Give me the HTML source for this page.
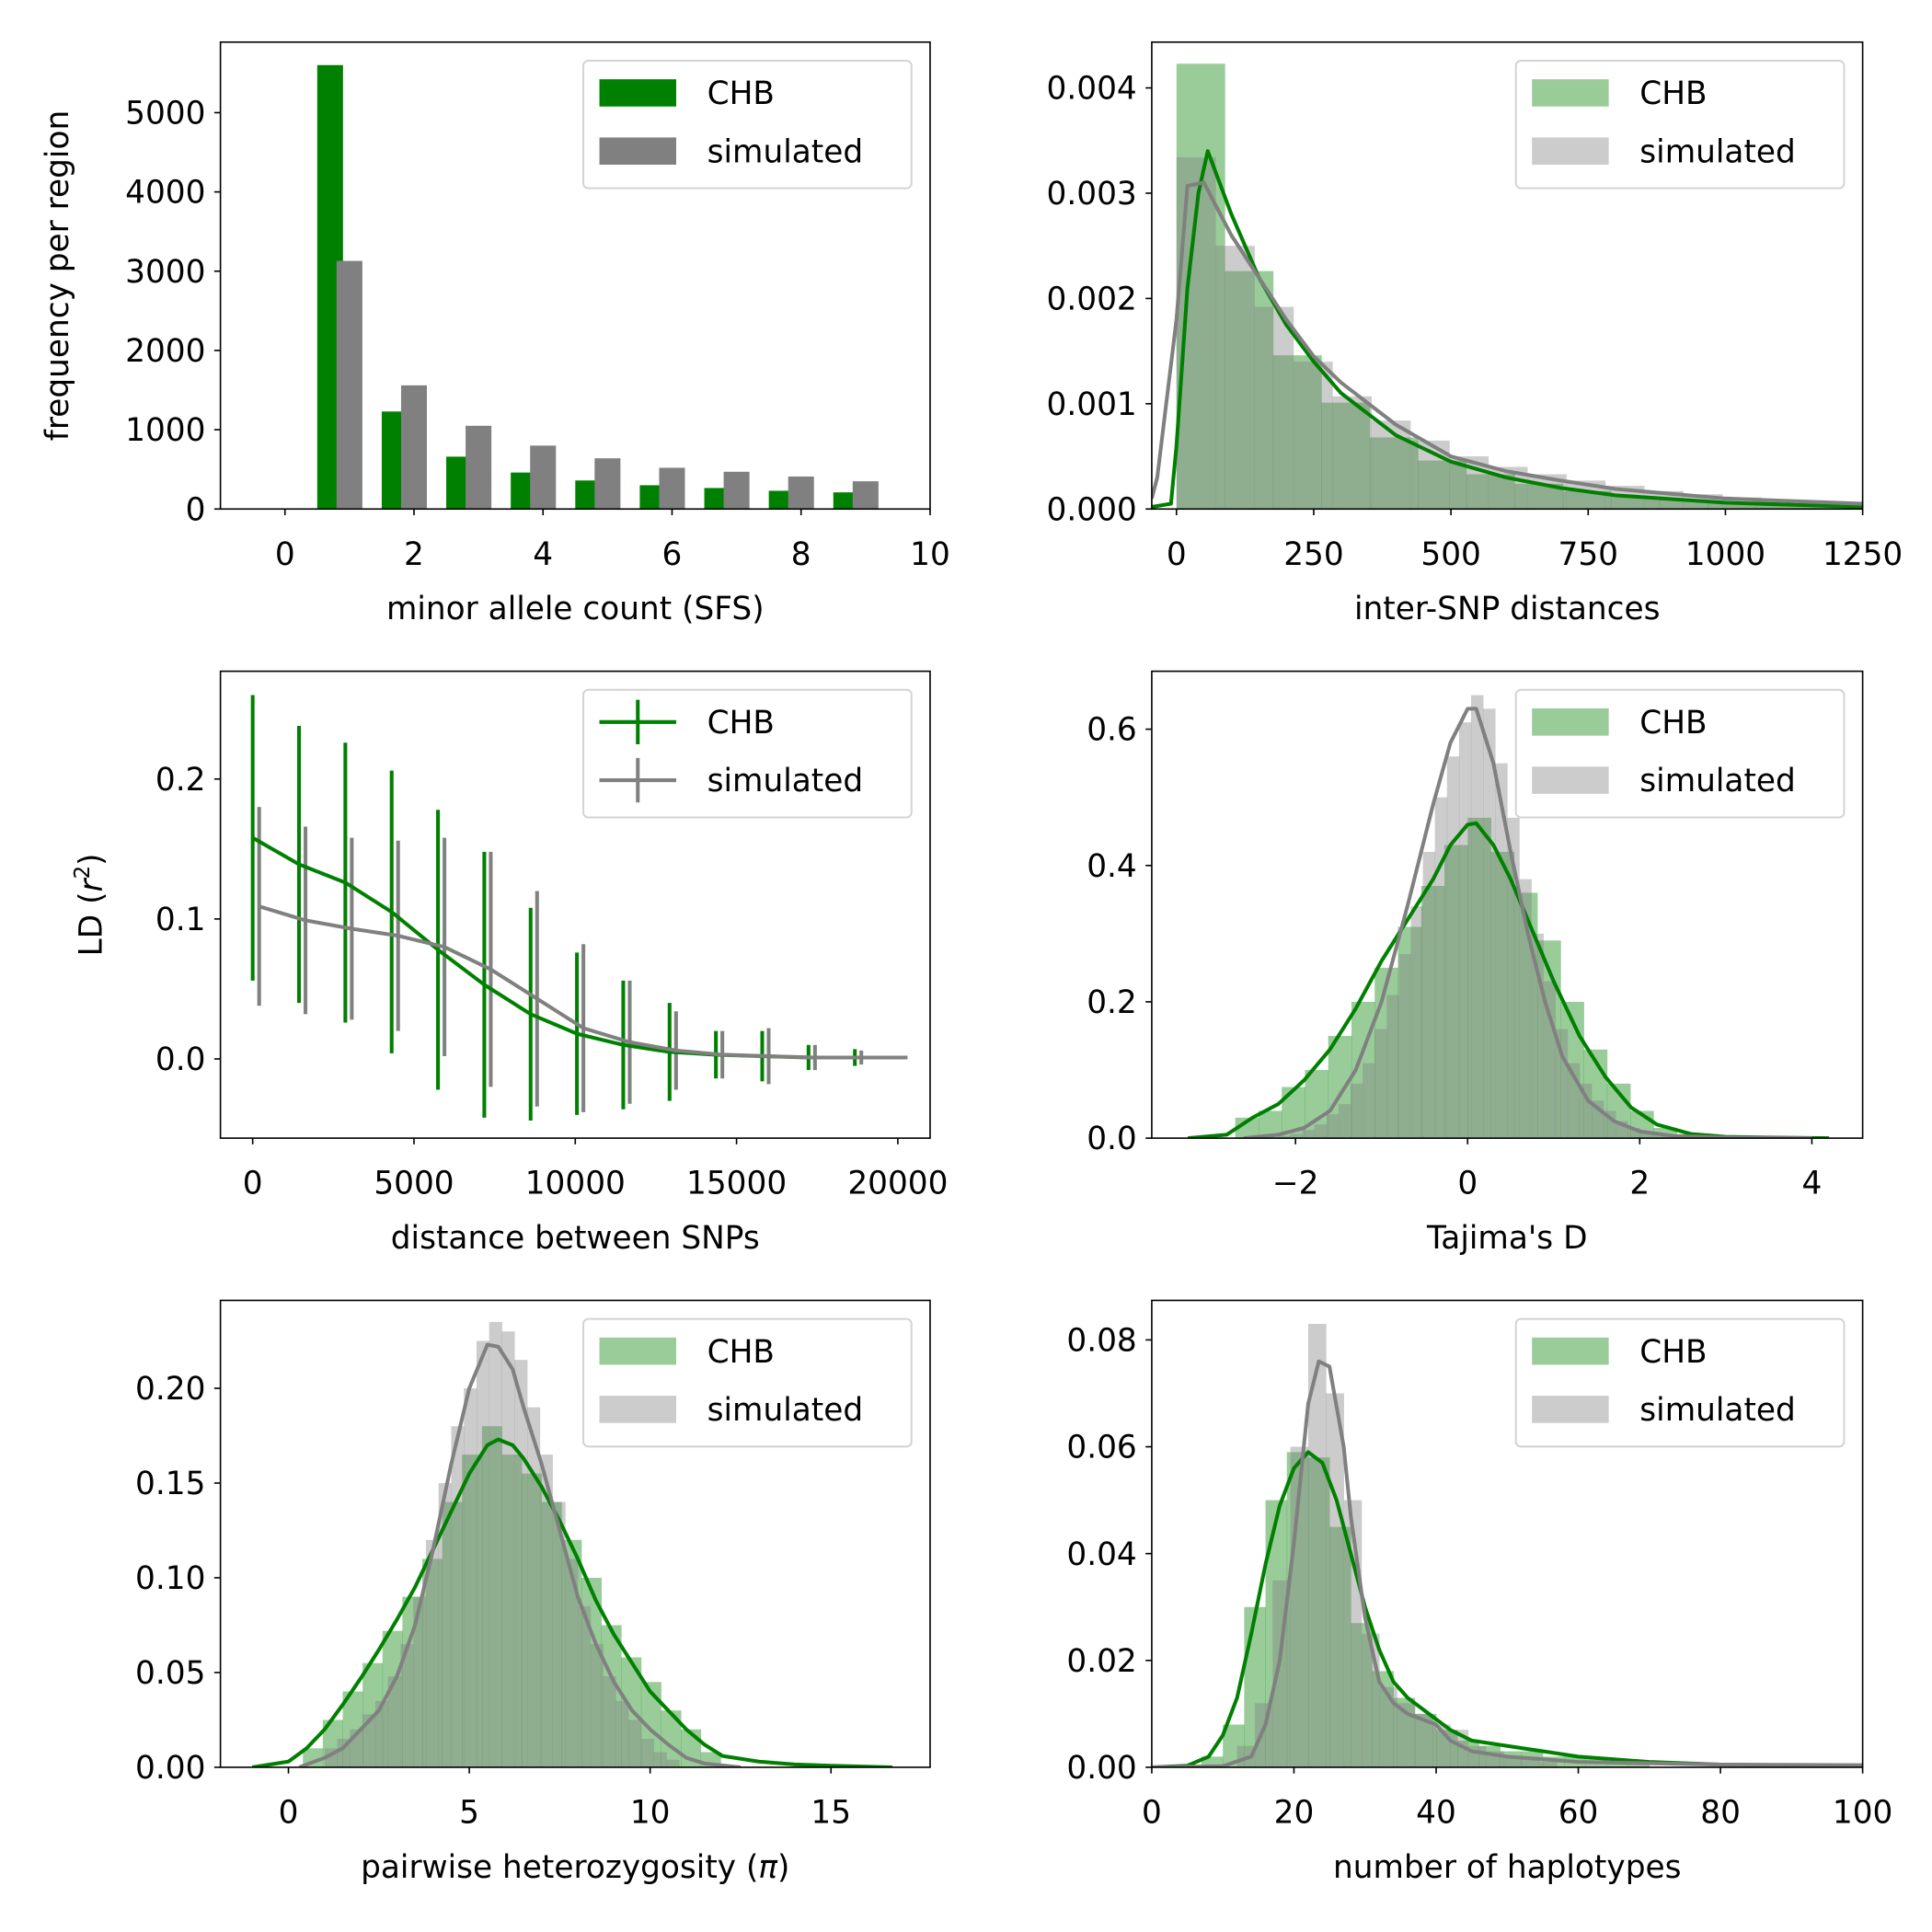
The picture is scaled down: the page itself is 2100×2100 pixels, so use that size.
<!DOCTYPE html>
<html><head><meta charset="utf-8"><style>
html,body{margin:0;padding:0;background:#fff;}
svg{display:block;}
text{font-family:"DejaVu Sans","Liberation Sans",sans-serif;fill:#000;}
</style></head><body>
<svg id="fig" width="2100" height="2100" viewBox="0 0 1560 1560" xmlns="http://www.w3.org/2000/svg"></svg>
<script>
// ---------- Panel 1: SFS ----------
const sfsCounts = [1,2,3,4,5,6,7,8,9];
const sfsCHB = [5600,1230,660,460,360,300,265,230,210];
const sfsSim = [3130,1560,1050,800,640,520,470,410,350];
const sfsXTicks = [0,2,4,6,8,10];
const sfsYTicks = [0,1000,2000,3000,4000,5000];
// ---------- Panel 2: inter-SNP distances ----------
const distChbStart = 0, distChbWidth = 88;
const distChbHist = [0.00423,0.00226,0.00146,0.00101,0.00068,0.00046,0.00033,0.00024,0.00017,0.00012,0.00009,0.00006,0.00004,0.00003];
const distSimStart = 0, distSimWidth = 71;
const distSimHist = [0.00334,0.00250,0.00192,0.00140,0.00107,0.00084,0.00065,0.00050,0.00040,0.00033,0.00027,0.00022,0.00017,0.00014,0.00011,0.00009,0.00007];
const distChbKdeX = [-45,-10,0,20,40,57,100,150,200,250,300,400,500,600,700,800,1000,1250];
const distChbKdeY = [0.00002,0.00005,0.0006,0.0021,0.0030,0.0034,0.0028,0.0022,0.00175,0.0014,0.0011,0.0007,0.00045,0.0003,0.0002,0.00013,0.00006,0.00002];
const distSimKdeX = [-45,-35,0,20,50,100,150,200,250,300,400,500,600,700,800,1000,1250];
const distSimKdeY = [0.0001,0.0003,0.0018,0.00307,0.0031,0.0026,0.0022,0.0018,0.00145,0.0012,0.0008,0.0005,0.00036,0.00027,0.00019,0.0001,0.00005];
const distXTicks = [0,250,500,750,1000,1250];
const distYTicks = [0,0.001,0.002,0.003,0.004];
// ---------- Panel 3: LD decay ----------
const ldX = [0,1436,2872,4308,5744,7180,8616,10052,11488,12924,14360,15796,17232,18668,20100];
const ldChbMean = [0.158,0.139,0.126,0.105,0.078,0.053,0.032,0.018,0.010,0.005,0.003,0.002,0.001,0.001,0.001];
const ldChbErr = [0.102,0.099,0.100,0.101,0.100,0.095,0.076,0.058,0.046,0.035,0.017,0.018,0.009,0.006,0];
const ldSimMean = [0.109,0.099,0.093,0.088,0.080,0.064,0.043,0.022,0.012,0.006,0.003,0.002,0.001,0.001,0.001];
const ldSimErr = [0.071,0.067,0.065,0.068,0.078,0.084,0.077,0.060,0.044,0.028,0.017,0.020,0.009,0.005,0];
const ldSimOffset = 200;
const ldXTicks = [0,5000,10000,15000,20000];
const ldYTicks = [0,0.1,0.2];
// ---------- Panel 4: Tajima's D ----------
const tajChbStart = -2.7, tajChbWidth = 0.27;
const tajChbHist = [0.03,0.04,0.075,0.1,0.15,0.2,0.25,0.31,0.37,0.43,0.47,0.42,0.36,0.29,0.2,0.13,0.08,0.04,0.015,0.006,0.003,0.002];
const tajSimStart = -2.2, tajSimWidth = 0.14;
const tajSimHist = [0.003,0.006,0.012,0.02,0.035,0.05,0.08,0.11,0.16,0.21,0.27,0.34,0.42,0.5,0.56,0.61,0.65,0.63,0.55,0.47,0.38,0.3,0.23,0.16,0.11,0.08,0.055,0.04,0.025,0.015,0.008,0.004,0.002];
const tajChbKdeX = [-3.25,-2.8,-2.5,-2.2,-1.9,-1.6,-1.3,-1.0,-0.7,-0.4,-0.2,0,0.1,0.3,0.5,0.8,1.0,1.3,1.6,1.9,2.2,2.6,3.0,3.5,4.2];
const tajChbKdeY = [0,0.005,0.03,0.05,0.085,0.13,0.19,0.26,0.32,0.38,0.43,0.46,0.462,0.43,0.38,0.29,0.23,0.15,0.09,0.045,0.02,0.006,0.002,0.001,0];
const tajSimKdeX = [-2.6,-2.2,-1.9,-1.6,-1.3,-1.0,-0.7,-0.4,-0.2,0,0.1,0.3,0.5,0.7,0.9,1.1,1.4,1.7,2.0,2.4,3.0,4.0];
const tajSimKdeY = [0,0.005,0.015,0.04,0.1,0.2,0.34,0.49,0.58,0.63,0.63,0.55,0.42,0.3,0.2,0.12,0.055,0.025,0.01,0.003,0.001,0];
const tajXTicks = [-2,0,2,4];
const tajYTicks = [0,0.2,0.4,0.6];
// ---------- Panel 5: pi ----------
const piChbStart = 0.4, piChbWidth = 0.55;
const piChbHist = [0.01,0.025,0.04,0.055,0.072,0.09,0.11,0.14,0.165,0.18,0.165,0.155,0.14,0.12,0.1,0.075,0.058,0.045,0.03,0.02,0.008];
const piSimStart = 1.0, piSimWidth = 0.35;
const piSimHist = [0.01,0.015,0.02,0.028,0.035,0.048,0.065,0.09,0.12,0.15,0.18,0.2,0.225,0.235,0.23,0.215,0.19,0.165,0.14,0.11,0.085,0.065,0.048,0.035,0.025,0.015,0.008,0.004];
const piChbKdeX = [-1,0,0.5,1,1.5,2,2.5,3,3.5,4,4.5,5,5.5,5.8,6.2,6.5,7,7.5,8,8.5,9,9.5,10,10.5,11,11.5,12,13,14,15,16.7];
const piChbKdeY = [0,0.003,0.01,0.02,0.033,0.047,0.062,0.078,0.095,0.115,0.135,0.155,0.17,0.173,0.17,0.163,0.148,0.13,0.11,0.088,0.07,0.055,0.04,0.03,0.02,0.012,0.006,0.003,0.0015,0.0008,0];
const piSimKdeX = [0.3,1,1.5,2,2.5,3,3.5,4,4.5,5,5.5,5.8,6.2,6.5,7,7.5,8,8.5,9,9.5,10,10.5,11,11.5,12.5];
const piSimKdeY = [0,0.005,0.01,0.02,0.03,0.048,0.075,0.115,0.16,0.2,0.223,0.222,0.21,0.19,0.16,0.125,0.09,0.065,0.045,0.03,0.02,0.012,0.005,0.002,0];
const piXTicks = [0,5,10,15];
const piYTicks = [0,0.05,0.10,0.15,0.20];
// ---------- Panel 6: haplotypes ----------
const hapChbStart = 7, hapChbWidth = 3;
const hapChbHist = [0.002,0.008,0.03,0.05,0.059,0.058,0.045,0.027,0.018,0.013,0.01,0.007,0.005,0.004,0.003,0.003,0.002,0.002,0.0015,0.001,0.001];
const hapSimStart = 12, hapSimWidth = 2.5;
const hapSimHist = [0.004,0.012,0.035,0.06,0.083,0.07,0.05,0.025,0.015,0.012,0.01,0.008,0.007,0.004,0.003,0.002,0.002,0.001];
const hapChbKdeX = [0,5,8,10,12,14,16,18,20,22,24,26,28,30,32,34,36,38,40,42,45,50,55,60,65,70,80,100];
const hapChbKdeY = [0,0.0003,0.002,0.006,0.013,0.025,0.038,0.049,0.056,0.059,0.057,0.05,0.04,0.03,0.022,0.016,0.013,0.011,0.009,0.007,0.005,0.004,0.003,0.002,0.0015,0.001,0.0005,0.0002];
const hapSimKdeX = [0,10,14,16,18,20,22,23.5,25,27,28,30,32,34,36,38,40,42,45,50,60,80,100];
const hapSimKdeY = [0,0.0002,0.002,0.008,0.02,0.042,0.068,0.076,0.075,0.06,0.047,0.028,0.016,0.012,0.01,0.009,0.008,0.005,0.003,0.002,0.001,0.0005,0.0004];
const hapXTicks = [0,20,40,60,80,100];
const hapYTicks = [0,0.02,0.04,0.06,0.08];

const NS = "http://www.w3.org/2000/svg";
const fig = document.getElementById('fig');
const GREEN = "#008000", GRAY = "#808080";
function mk(tag, attrs, parent){
  const e = document.createElementNS(NS, tag);
  for (const k in attrs) e.setAttribute(k, attrs[k]);
  (parent||fig).appendChild(e);
  return e;
}
function fmt(v, dec){ const s = v.toFixed(dec); return s.replace('-', '\u2212'); }

function makeAxes(name, L, T, R, B, xmin, xmax, ymin, ymax){
  const g = mk('g', {});
  
  
  const sx = v => L + (v - xmin) / (xmax - xmin) * (R - L);
  const sy = v => B - (v - ymin) / (ymax - ymin) * (B - T);
  const clipId = 'clip-' + name;
  const cp = mk('clipPath', {id: clipId}, g);
  mk('rect', {x: L, y: T, width: R - L, height: B - T}, cp);
  const plot = mk('g', {'clip-path': 'url(#' + clipId + ')'}, g);
  
  
  return {g, plot, sx, sy, L, T, R, B};
}
function frame(ax, xticks, xdec, yticks, ydec, xlabel, ylabel){
  const {g, sx, sy, L, T, R, B} = ax;
  const fr = mk('rect', {x: L, y: T, width: R - L, height: B - T, fill: 'none', stroke: '#000', 'stroke-width': 1.2}, g);
  
  
  xticks.forEach(v => {
    const x = sx(v);
    mk('line', {x1: x, x2: x, y1: B, y2: B + 5, stroke: '#000', 'stroke-width': 1.2}, g);
    const t = mk('text', {x: x, y: B + 45, 'font-size': 25.5, 'text-anchor': 'middle'}, g);
    t.textContent = fmt(v, xdec);
    
    
  });
  yticks.forEach(v => {
    const y = sy(v);
    mk('line', {x1: L - 5, x2: L, y1: y, y2: y, stroke: '#000', 'stroke-width': 1.2}, g);
    const t = mk('text', {x: L - 12, y: y + 9, 'font-size': 25.5, 'text-anchor': 'end'}, g);
    t.textContent = fmt(v, ydec);
    
    
  });
  const xl = mk('text', {x: (L + R) / 2, y: B + 89, 'font-size': 25.5, 'text-anchor': 'middle'}, g);
  xl.innerHTML = xlabel;
  
  
  if (ylabel){
    const cx = ylabel.x, cy = (T + B) / 2;
    const yl = mk('text', {x: cx, y: cy, 'font-size': 25.5, 'text-anchor': 'middle', transform: 'rotate(-90 ' + cx + ' ' + cy + ')'}, g);
    yl.innerHTML = ylabel.html;
    
    
  }
}
function hist(ax, start, width, vals, color, name){
  const grp = mk('g', {}, ax.plot);
  
  
  vals.forEach((v, i) => {
    const x0 = ax.sx(start + i * width), x1 = ax.sx(start + (i + 1) * width);
    const r = mk('rect', {x: x0, y: ax.sy(v), width: x1 - x0 + 0.3, height: ax.sy(0) - ax.sy(v), fill: color, 'fill-opacity': 0.4}, grp);
    
    
  });
}
function line(ax, xs, ys, color, name){
  const d = xs.map((x, i) => (i ? 'L' : 'M') + ax.sx(x).toFixed(2) + ' ' + ax.sy(ys[i]).toFixed(2)).join(' ');
  const p = mk('path', {d: d, fill: 'none', stroke: color, 'stroke-width': 3, 'stroke-linejoin': 'round'}, ax.plot);
  
  
}
function legend(ax, kind){
  const L = ax.R - 280, T = ax.T + 15;
  const g = mk('g', {}, ax.g);
  
  
  mk('rect', {x: L, y: T, width: 265, height: 103, rx: 4, fill: '#fff', 'fill-opacity': 0.8, stroke: '#d4d4d4', 'stroke-width': 1.5}, g);
  const entries = [['CHB', GREEN, 26], ['simulated', GRAY, 73]];
  entries.forEach(([lab, col, dy]) => {
    const eg = mk('g', {}, g);
    
    
    if (kind === 'solid'){
      mk('rect', {x: L + 13, y: T + dy - 11, width: 62, height: 22, fill: col}, eg);
    } else if (kind === 'alpha'){
      mk('rect', {x: L + 13, y: T + dy - 11, width: 62, height: 22, fill: col, 'fill-opacity': 0.4}, eg);
    } else {
      mk('line', {x1: L + 13, x2: L + 75, y1: T + dy, y2: T + dy, stroke: col, 'stroke-width': 3}, eg);
      mk('line', {x1: L + 44, x2: L + 44, y1: T + dy - 18, y2: T + dy + 18, stroke: col, 'stroke-width': 3}, eg);
    }
    const t = mk('text', {x: L + 100, y: T + dy + 9, 'font-size': 25.5}, eg);
    t.textContent = lab;
  });
}

// Panel 1
(function(){
  const ax = makeAxes('sfs-chart', 178, 34, 751, 411, -1, 10, 0, 5890);
  const gc = mk('g', {}, ax.plot);  
  const gs = mk('g', {}, ax.plot);  
  sfsCounts.forEach((c, i) => {
    const a = ax.sx(c - 0.5), b = ax.sx(c - 0.1);
    const r = mk('rect', {x: a, y: ax.sy(sfsCHB[i]), width: b - a, height: ax.sy(0) - ax.sy(sfsCHB[i]), fill: GREEN}, gc);
    
    
    const a2 = ax.sx(c - 0.2), b2 = ax.sx(c + 0.2);
    const r2 = mk('rect', {x: a2, y: ax.sy(sfsSim[i]), width: b2 - a2, height: ax.sy(0) - ax.sy(sfsSim[i]), fill: GRAY}, gs);
    
    
  });
  frame(ax, sfsXTicks, 0, sfsYTicks, 0, 'minor allele count (SFS)', {x: 55, html: 'frequency per region'});
  legend(ax, 'solid');
})();
// Panel 2
(function(){
  const ax = makeAxes('inter-snp-chart', 930, 34, 1504, 411, -45, 1250, 0, 0.004435);
  hist(ax, distChbStart, distChbWidth, distChbHist, GREEN, 'chb-histogram');
  hist(ax, distSimStart, distSimWidth, distSimHist, GRAY, 'simulated-histogram');
  line(ax, distChbKdeX, distChbKdeY, GREEN, 'chb-kde-line');
  line(ax, distSimKdeX, distSimKdeY, GRAY, 'simulated-kde-line');
  frame(ax, distXTicks, 0, distYTicks, 3, 'inter-SNP distances', null);
  legend(ax, 'alpha');
})();
// Panel 3
(function(){
  const ax = makeAxes('ld-chart', 178, 542, 751, 919, -1000, 21000, -0.0566, 0.277);
  const ge = mk('g', {}, ax.plot);  
  ldX.forEach((x, i) => {
    const e1 = mk('line', {x1: ax.sx(x), x2: ax.sx(x), y1: ax.sy(ldChbMean[i] - ldChbErr[i]), y2: ax.sy(ldChbMean[i] + ldChbErr[i]), stroke: GREEN, 'stroke-width': 3}, ge);
    
    
    const xs = x + ldSimOffset;
    const e2 = mk('line', {x1: ax.sx(xs), x2: ax.sx(xs), y1: ax.sy(ldSimMean[i] - ldSimErr[i]), y2: ax.sy(ldSimMean[i] + ldSimErr[i]), stroke: GRAY, 'stroke-width': 3}, ge);
    
    
  });
  line(ax, ldX, ldChbMean, GREEN, 'chb-ld-line');
  line(ax, ldX.map(x => x + ldSimOffset), ldSimMean, GRAY, 'simulated-ld-line');
  frame(ax, ldXTicks, 0, ldYTicks, 1, 'distance between SNPs', {x: 82, html: 'LD (<tspan font-style="italic">r</tspan><tspan font-size="17" dy="-10">2</tspan><tspan dy="10">)</tspan>'});
  legend(ax, 'errorbar');
})();
// Panel 4
(function(){
  const ax = makeAxes('tajima-chart', 930, 542, 1504, 919, -3.67, 4.59, 0, 0.685);
  hist(ax, tajChbStart, tajChbWidth, tajChbHist, GREEN, 'chb-histogram');
  hist(ax, tajSimStart, tajSimWidth, tajSimHist, GRAY, 'simulated-histogram');
  line(ax, tajChbKdeX, tajChbKdeY, GREEN, 'chb-kde-line');
  line(ax, tajSimKdeX, tajSimKdeY, GRAY, 'simulated-kde-line');
  frame(ax, tajXTicks, 0, tajYTicks, 1, "Tajima's D", null);
  legend(ax, 'alpha');
})();
// Panel 5
(function(){
  const ax = makeAxes('pi-chart', 178, 1050, 751, 1427, -1.88, 17.74, 0, 0.2464);
  hist(ax, piChbStart, piChbWidth, piChbHist, GREEN, 'chb-histogram');
  hist(ax, piSimStart, piSimWidth, piSimHist, GRAY, 'simulated-histogram');
  line(ax, piChbKdeX, piChbKdeY, GREEN, 'chb-kde-line');
  line(ax, piSimKdeX, piSimKdeY, GRAY, 'simulated-kde-line');
  frame(ax, piXTicks, 0, piYTicks, 2, 'pairwise heterozygosity (<tspan font-style="italic">π</tspan>)', null);
  legend(ax, 'alpha');
})();
// Panel 6
(function(){
  const ax = makeAxes('haplotypes-chart', 930, 1050, 1504, 1427, 0, 100, 0, 0.0874);
  hist(ax, hapChbStart, hapChbWidth, hapChbHist, GREEN, 'chb-histogram');
  hist(ax, hapSimStart, hapSimWidth, hapSimHist, GRAY, 'simulated-histogram');
  line(ax, hapChbKdeX, hapChbKdeY, GREEN, 'chb-kde-line');
  line(ax, hapSimKdeX, hapSimKdeY, GRAY, 'simulated-kde-line');
  frame(ax, hapXTicks, 0, hapYTicks, 2, 'number of haplotypes', null);
  legend(ax, 'alpha');
})();
</script>
</body></html>
